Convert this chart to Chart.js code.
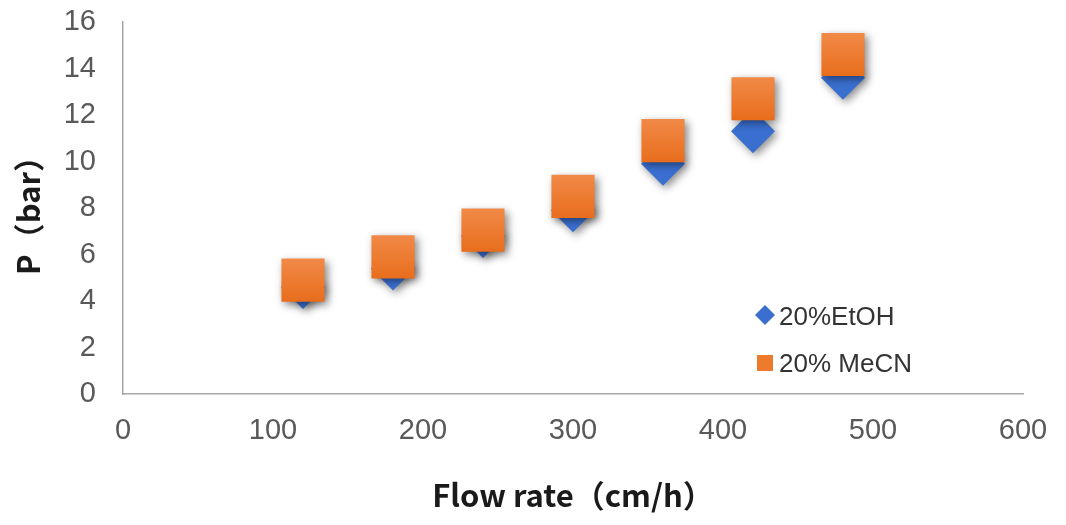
<!DOCTYPE html>
<html>
<head>
<meta charset="utf-8">
<script src="https://cdn.jsdelivr.net/npm/chart.js@4"></script>
<style>
    html, body { margin: 0; padding: 0; background: #ffffff; }
    #wrap { width: 1066px; height: 525px; }
</style>
</head>
<body>
<div id="wrap"><canvas id="chartP" width="1066" height="525"></canvas></div>
<script>
const flowRates = [120, 180, 240, 300, 360, 420, 480];
const pEtOH = [4.6, 5.4, 6.8, 7.9, 9.9, 11.3, 13.6];
const pMeCN = [4.9, 5.9, 7.05, 8.5, 10.9, 12.7, 14.6];
const seriesLabels = ["20%EtOH", "20% MeCN"];

const BLUE = "#3a6fd0";
const ORANGE = "#ee7b2c";

function toPoints(ys) {
    return flowRates.map((x, i) => ({ x: x, y: ys[i] }));
}

// lighter top, darker bottom on the squares
function squareFill(ctx) {
    if (ctx.type !== "data" || !ctx.parsed) {
        return ORANGE;
    }
    const chart = ctx.chart;
    const yScale = chart.scales.y;
    if (!yScale) {
        return ORANGE;
    }
    const py = yScale.getPixelForValue(ctx.parsed.y);
    if (!isFinite(py)) {
        return ORANGE;
    }
    const g = chart.ctx.createLinearGradient(0, py - 22, 0, py + 22);
    g.addColorStop(0, "#f18a48");
    g.addColorStop(1, "#e86d1c");
    return g;
}

const shadowPlugin = {
    id: "shadow",
    beforeDatasetsDraw(chart) {
        const c = chart.ctx;
        c.save();
        c.shadowColor = "rgba(0,0,0,0.45)";
        c.shadowBlur = 8;
        c.shadowOffsetX = 3;
        c.shadowOffsetY = 3;
    },
    afterDatasetsDraw(chart) {
        chart.ctx.restore();
    }
};

const legendPlugin = {
    id: "sideLegend",
    afterDraw(chart) {
        const c = chart.ctx;
        const ds = chart.data.datasets;
        c.save();
        c.font = "26px 'Liberation Sans', Arial, sans-serif";
        c.textBaseline = "middle";
        c.textAlign = "left";

        // diamond
        c.fillStyle = BLUE;
        c.beginPath();
        c.moveTo(765, 305);
        c.lineTo(775, 315);
        c.lineTo(765, 325);
        c.lineTo(755, 315);
        c.closePath();
        c.fill();
        c.fillStyle = "#333333";
        c.fillText(ds[0].label, 779, 318);

        // square
        c.fillStyle = ORANGE;
        c.fillRect(757, 355, 16, 16);
        c.fillStyle = "#333333";
        c.fillText(ds[1].label, 779, 365);
        c.restore();
    }
};

const tickFont = { family: "'Liberation Sans', Arial, sans-serif", size: 29 };
const titleFont = { family: "'Noto Sans CJK SC', 'Noto Sans', sans-serif", size: 31, weight: "bold" };

new Chart(
    document.getElementById("chartP"),
    {
        type: "scatter",
        data: {
            datasets: [
                {
                    label: seriesLabels[0],
                    data: toPoints(pEtOH),
                    pointStyle: "rectRot",
                    pointRadius: 22,
                    pointHoverRadius: 22,
                    backgroundColor: BLUE,
                    borderWidth: 0,
                    order: 1
                },
                {
                    label: seriesLabels[1],
                    data: toPoints(pMeCN),
                    pointStyle: "rect",
                    pointRadius: 30.5,
                    pointHoverRadius: 30.5,
                    backgroundColor: squareFill,
                    borderWidth: 0,
                    order: 0
                }
            ]
        },
        options: {
            responsive: false,
            animation: false,
            events: [],
            layout: {
                autoPadding: false,
                padding: { top: 22, right: 43, left: 0, bottom: 0 }
            },
            plugins: {
                legend: { display: false },
                tooltip: { enabled: false }
            },
            scales: {
                x: {
                    type: "linear",
                    min: 0,
                    max: 600,
                    ticks: {
                        stepSize: 100,
                        color: "#595959",
                        font: tickFont,
                        padding: 20
                    },
                    grid: {
                        display: true,
                        drawOnChartArea: false,
                        drawTicks: false
                    },
                    border: { display: true, color: "#a6a6a6", width: 1.5 },
                    title: {
                        display: true,
                        text: "Flow rate（cm/h）",
                        color: "#1a1a1a",
                        font: titleFont,
                        padding: { top: 0, bottom: 11 }
                    },
                    afterFit(scale) {
                        scale.height = 131;
                        scale.paddingLeft = 0;
                        scale.paddingRight = 0;
                    }
                },
                y: {
                    type: "linear",
                    min: 0,
                    max: 16,
                    ticks: {
                        stepSize: 2,
                        color: "#595959",
                        font: tickFont,
                        padding: 27
                    },
                    grid: {
                        display: true,
                        drawOnChartArea: false,
                        drawTicks: false
                    },
                    border: { display: true, color: "#a6a6a6", width: 1.5 },
                    title: {
                        display: true,
                        text: "P（bar）",
                        color: "#1a1a1a",
                        font: titleFont,
                        padding: { top: 10, bottom: 0 }
                    },
                    afterFit(scale) {
                        scale.width = 123;
                        scale.paddingTop = 0;
                        scale.paddingBottom = 0;
                    }
                }
            }
        },
        plugins: [shadowPlugin, legendPlugin]
    }
);
</script>
</body>
</html>
